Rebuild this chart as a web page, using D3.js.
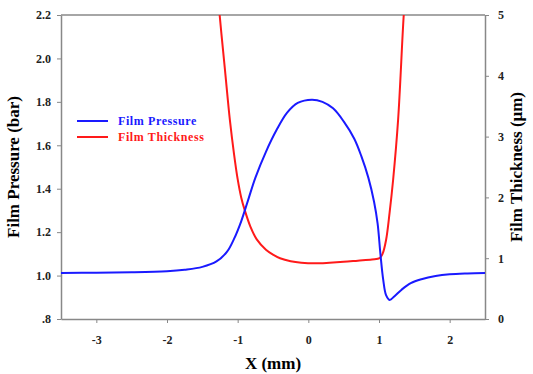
<!DOCTYPE html>
<html>
<head>
<meta charset="utf-8">
<script src="https://cdn.jsdelivr.net/npm/d3@7"></script>
<style>
  body { margin: 0; background: #fff; }
  svg { display: block; font-family: "Liberation Serif", "Times New Roman", serif; font-weight: bold; }
  .axis path, .axis line { stroke: #888; }
  .axis text { fill: #222; font-size: 12px; font-family: "Liberation Serif", serif; font-weight: bold; }
</style>
</head>
<body>
<svg width="533" height="374"></svg>
<script>
// pressure curve (bar)
const pressX = [-3.5, -3.0, -2.5, -2.0, -1.75, -1.5, -1.3, -1.15, -1.05, -0.95, -0.85, -0.75, -0.6, -0.45, -0.3, -0.15, 0.05, 0.2, 0.35, 0.5, 0.65, 0.75, 0.85, 0.93, 0.98, 1.02, 1.06, 1.10, 1.15, 1.22, 1.32, 1.45, 1.6, 1.8, 2.0, 2.25, 2.5];
const pressY = [1.012, 1.013, 1.015, 1.02, 1.027, 1.04, 1.065, 1.11, 1.17, 1.25, 1.35, 1.45, 1.57, 1.67, 1.75, 1.795, 1.81, 1.80, 1.77, 1.71, 1.63, 1.55, 1.45, 1.34, 1.24, 1.10, 0.98, 0.91, 0.888, 0.905, 0.935, 0.965, 0.983, 0.998, 1.006, 1.01, 1.012];

// film thickness (um)
const thickX = [-1.32, -1.255, -1.18, -1.11, -1.05, -1.0, -0.95, -0.9, -0.82, -0.73, -0.6, -0.5, -0.4, -0.25, -0.1, 0.1, 0.3, 0.5, 0.7, 0.9, 1.01, 1.05, 1.10, 1.15, 1.20, 1.27, 1.35, 1.40];
const thickY = [5.9, 5.0, 4.1, 3.27, 2.7, 2.3, 2.0, 1.79, 1.52, 1.31, 1.14, 1.06, 1.0, 0.95, 0.925, 0.915, 0.925, 0.94, 0.96, 0.98, 1.0, 1.07, 1.3, 1.75, 2.29, 3.27, 5.0, 5.8];

const xTicks = [-3, -2, -1, 0, 1, 2];
const xTickLabels = ["-3", "-2", "-1", "0", "1", "2"];
const pTicks = [0.8, 1.0, 1.2, 1.4, 1.6, 1.8, 2.0, 2.2];
const pTickLabels = [".8", "1.0", "1.2", "1.4", "1.6", "1.8", "2.0", "2.2"];
const hTicks = [0, 1, 2, 3, 4, 5];
const hTickLabels = ["0", "1", "2", "3", "4", "5"];

const svg = d3.select("svg"),
    margin = {top: 15, right: 48, bottom: 55, left: 61},
    width = +svg.attr("width") - margin.left - margin.right,
    height = +svg.attr("height") - margin.top - margin.bottom,
    g = svg.append("g").attr("transform", "translate(" + margin.left + "," + margin.top + ")");

const x = d3.scaleLinear().domain([-3.5, 2.5]).range([0, width]);
const yP = d3.scaleLinear().domain([0.8, 2.2]).range([height, 0]);
const yH = d3.scaleLinear().domain([0, 5]).range([height, 0]);

g.append("defs").append("clipPath")
    .attr("id", "clip")
    .append("rect")
    .attr("width", width)
    .attr("height", height);

// рамка сверху
g.append("line")
    .attr("x1", 0).attr("x2", width).attr("y1", 0).attr("y2", 0)
    .attr("stroke", "#888").attr("stroke-width", 1.5);

g.append("g")
    .attr("class", "axis")
    .attr("transform", "translate(0," + height + ")")
    .call(d3.axisBottom(x).tickValues(xTicks).tickFormat((d, i) => xTickLabels[i]).tickSize(4).tickSizeOuter(0).tickPadding(12))
    .call(a => a.select(".domain").attr("stroke-width", 1.5));

g.append("g")
    .attr("class", "axis")
    .call(d3.axisLeft(yP).tickValues(pTicks).tickFormat((d, i) => pTickLabels[i]).tickSize(4).tickSizeOuter(0).tickPadding(6))
    .call(a => a.select(".domain").attr("stroke-width", 1.5));

g.append("g")
    .attr("class", "axis")
    .attr("transform", "translate(" + width + ",0)")
    .call(d3.axisRight(yH).tickValues(hTicks).tickFormat((d, i) => hTickLabels[i]).tickSize(4).tickSizeOuter(0).tickPadding(9))
    .call(a => a.select(".domain").attr("stroke-width", 1.5));

const lineP = d3.line()
    .x((d, i) => x(pressX[i]))
    .y(d => yP(d))
    .curve(d3.curveCatmullRom.alpha(0.5));

const lineH = d3.line()
    .x((d, i) => x(thickX[i]))
    .y(d => yH(d))
    .curve(d3.curveCatmullRom.alpha(0.5));

const plot = g.append("g").attr("clip-path", "url(#clip)");

plot.append("path")
    .datum(thickY)
    .attr("d", lineH)
    .attr("fill", "none")
    .attr("stroke", "#ff1a1a")
    .attr("stroke-width", 2);

plot.append("path")
    .datum(pressY)
    .attr("d", lineP)
    .attr("fill", "none")
    .attr("stroke", "#1a1aff")
    .attr("stroke-width", 2);

// легенда
const legend = [
    {name: "Film Pressure", color: "#1a1aff"},
    {name: "Film Thickness", color: "#ff1a1a"}
];
const lg = g.selectAll(".leg").data(legend).enter().append("g")
    .attr("transform", (d, i) => "translate(16," + (106 + i * 16) + ")");
lg.append("line")
    .attr("x1", 0).attr("x2", 31)
    .attr("stroke", d => d.color).attr("stroke-width", 2);
lg.append("text")
    .attr("x", 41).attr("y", 4)
    .attr("fill", d => d.color)
    .style("font-size", "12px")
    .style("letter-spacing", "0.6px")
    .text(d => d.name);

// подписи осей
svg.append("text")
    .attr("x", margin.left + width / 2).attr("y", 369)
    .attr("text-anchor", "middle")
    .style("font-size", "17px")
    .text("X (mm)");

svg.append("text")
    .attr("transform", "translate(19," + (margin.top + height / 2) + ") rotate(-90)")
    .attr("text-anchor", "middle")
    .style("font-size", "17px")
    .text("Film Pressure (bar)");

svg.append("text")
    .attr("transform", "translate(522," + (margin.top + height / 2) + ") rotate(-90)")
    .attr("text-anchor", "middle")
    .style("font-size", "17px")
    .text("Film Thickness (\u03bcm)");
</script>
</body>
</html>
